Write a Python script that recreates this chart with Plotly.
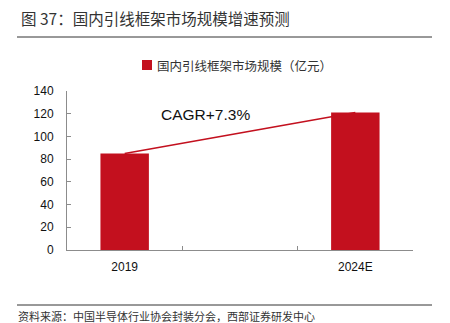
import plotly.graph_objects as go

# Market size of domestic lead frames (100 million CNY)
years = ["2019", "2024E"]
market_size = [85, 121]
gap_label = " "          # empty slot between the two years
series_name = "国内引线框架市场规模（亿元）"
cagr_text = "CAGR+7.3%"
title_text = "图 37：国内引线框架市场规模增速预测"
source_text = "资料来源：中国半导体行业协会封装分会，西部证券研发中心"
y_ticks = [0, 20, 40, 60, 80, 100, 120, 140]

RED = "#C3101E"
AXIS = "#8c8c8c"
CJK = "Noto Sans CJK SC"
LAT = "Liberation Sans, Arial, sans-serif"

x_cats = [years[0], gap_label, years[1]]
y_vals = [market_size[0], None, market_size[1]]

fig = go.Figure()
fig.add_trace(go.Bar(
    x=x_cats, y=y_vals, width=0.42,
    marker=dict(color=RED, line=dict(width=0)),
    showlegend=False,
))
# growth line linking the tops of the two bars
fig.add_trace(go.Scatter(
    x=years, y=market_size, mode="lines",
    line=dict(color=RED, width=1.5), showlegend=False,
))

W, H = 450, 323
L, R, T, B = 67, 37, 91, 73
pw, ph = W - L - R, H - T - B


def px(x):
    return (x - L) / pw


def py(y):
    return (H - B - y) / ph


shapes = [
    # rule under the title
    dict(type="line", xref="paper", yref="paper", x0=px(17), x1=px(432),
         y0=py(37), y1=py(37), line=dict(color="#333333", width=1)),
    # rule above the source note
    dict(type="line", xref="paper", yref="paper", x0=px(17), x1=px(432),
         y0=py(305), y1=py(305), line=dict(color="#333333", width=1)),
    # legend swatch
    dict(type="rect", xref="paper", yref="paper", x0=px(142), x1=px(152),
         y0=py(70), y1=py(60), fillcolor=RED, line=dict(width=0)),
]

annotations = [
    dict(text=title_text, xref="paper", yref="paper", x=px(19), y=py(18),
         xanchor="left", yanchor="middle", showarrow=False,
         font=dict(family=CJK, size=15.5, color="#333333")),
    dict(text=series_name, xref="paper", yref="paper", x=px(155), y=py(65),
         xanchor="left", yanchor="middle", showarrow=False,
         font=dict(family=CJK, size=12.5, color="#333333")),
    dict(text=cagr_text, xref="x", yref="y", x=0.7, y=119,
         xanchor="center", yanchor="middle", showarrow=False,
         font=dict(family=LAT, size=15.5, color="#111111")),
    dict(text=source_text, xref="paper", yref="paper", x=px(16), y=py(315.5),
         xanchor="left", yanchor="middle", showarrow=False,
         font=dict(family=CJK, size=11, color="#333333")),
]

fig.update_layout(
    width=W, height=H,
    margin=dict(l=L, r=R, t=T, b=B),
    paper_bgcolor="white", plot_bgcolor="white",
    shapes=shapes, annotations=annotations,
    xaxis=dict(
        type="category", categoryorder="array", categoryarray=x_cats,
        tickson="boundaries", ticks="inside", ticklen=4, tickcolor=AXIS,
        showline=True, linecolor=AXIS, linewidth=1,
        showgrid=False, zeroline=False,
        tickfont=dict(family=LAT, size=12, color="#111111"),
        ticklabelstandoff=6,
    ),
    yaxis=dict(
        range=[0, 140], tickvals=y_ticks, ticks="inside", ticklen=4,
        tickcolor=AXIS, showline=True, linecolor=AXIS, linewidth=1,
        showgrid=False, zeroline=False,
        tickfont=dict(family=LAT, size=12, color="#111111"),
        ticklabelstandoff=10,
    ),
)

fig.write_html("out.html")
